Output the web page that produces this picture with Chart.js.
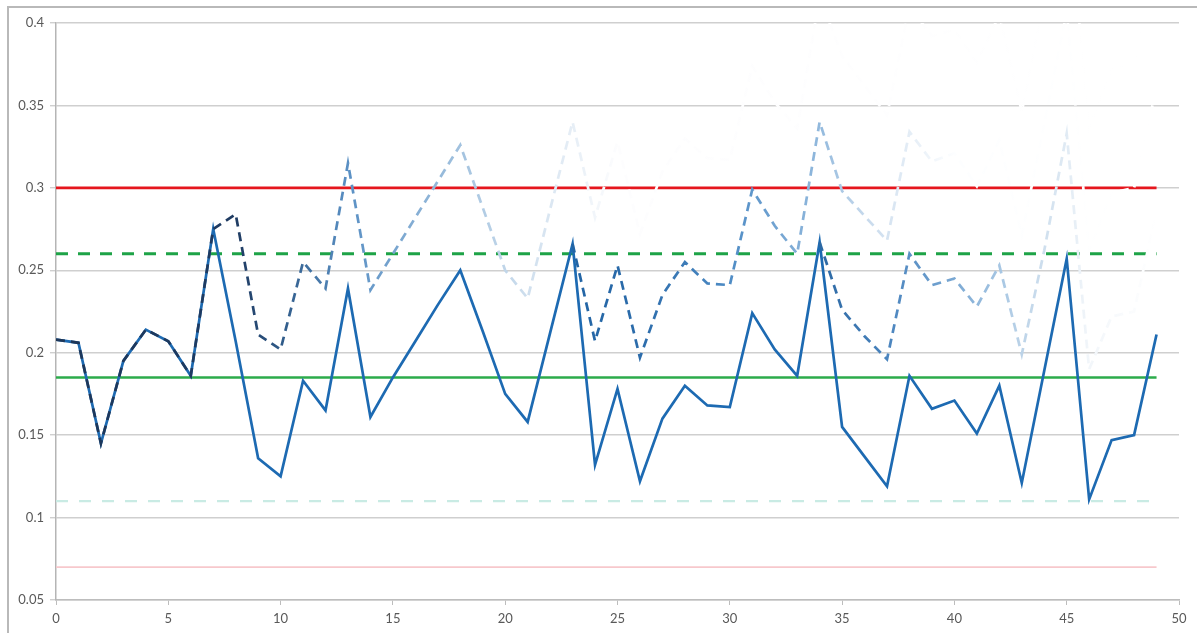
<!DOCTYPE html>
<html>
<head>
<meta charset="utf-8">
<script src="https://cdn.jsdelivr.net/npm/chart.js@4.4.1/dist/chart.umd.min.js"></script>
<style>
html,body{margin:0;padding:0;background:#fff;overflow:hidden}
#wrap{position:absolute;left:0;top:0;width:1197px;height:633px}
#frame{position:absolute;left:7px;top:6px;width:1220px;height:660px;border-left:2px solid #b9b9b9;border-top:2px solid #b9b9b9;box-sizing:border-box}
#c{position:absolute;left:0;top:0}
</style>
</head>
<body>
<div id="wrap">
<div id="frame"></div>
<canvas id="c" width="1197" height="633"></canvas>
</div>
<script>
// ---- data ----
const xCats = [0,1,2,3,4,5,6,7,8,9,10,11,12,13,14,15,16,17,18,19,20,21,22,23,24,25,26,27,28,29,30,31,32,33,34,35,36,37,38,39,40,41,42,43,44,45,46,47,48,49];
const actual = [0.208,0.206,0.145,0.195,0.214,0.207,0.186,0.275,0.207,0.136,
                0.125,0.183,0.165,0.239,0.161,0.185,0.207,0.229,0.250,0.213,
                0.175,0.158,0.212,0.266,0.132,0.178,0.122,0.160,0.180,0.168,
                0.167,0.224,0.202,0.186,0.267,0.155,0.137,0.119,0.186,0.166,
                0.171,0.151,0.180,0.121,0.189,0.257,0.111,0.147,0.150,0.211];
const scenario1 = [0.208,0.206,0.145,0.195,0.214,0.207,0.186,0.275,0.284,0.211,
                   0.202,0.255,0.239,0.315,0.238,0.260,0.282,0.304,0.326,0.288,
                   0.250,0.233,0.287,0.340,0.282,0.328,0.272,0.310,0.330,0.318,
                   0.317,0.374,0.352,0.336,0.416,0.380,0.362,0.344,0.410,0.392,
                   0.396,0.376,0.405,0.346,0.415,0.483,0.336,0.372,0.375,0.436];
const scenario2 = [null,null,null,null,null,null,null,null,null,null,
                   null,null,null,null,null,null,null,null,null,null,
                   null,null,null,0.266,0.207,0.253,0.197,0.235,0.255,0.242,
                   0.241,0.299,0.277,0.260,0.340,0.298,0.283,0.268,0.334,0.316,
                   0.321,0.301,0.329,0.271,0.339,0.407,0.262,0.297,0.300,0.361];
const scenario3 = [null,null,null,null,null,null,null,null,null,null,
                   null,null,null,null,null,null,null,null,null,null,
                   null,null,null,null,null,null,null,null,null,null,
                   null,null,null,null,0.267,0.226,0.210,0.196,0.260,0.241,
                   0.245,0.228,0.253,0.199,0.262,0.333,0.190,0.222,0.225,0.286];
const upperLimit = 0.30;
const upperWarning = 0.26;
const centerLine = 0.185;
const lowerWarning = 0.11;
const lowerLimit = 0.07;
const yTicks = [0.05,0.1,0.15,0.2,0.25,0.3,0.35,0.4];
const xTickStep = 5;

// ---- styles ----
const fade1 = [[0,'#1d3658'],[8,'#1f3b62'],[10,'#2f5a88'],[13,'#5a90c4'],[18,'#a2c2df'],[21,'#cfdfee'],[23,'#e6eef6'],[25,'#fdfdfe'],[49,'#ffffff']];
const fade2 = [[23,'#2264a4'],[26,'#2c6cab'],[30,'#4f8cc5'],[34,'#92b9dd'],[36,'#c6d9ec'],[38,'#e4edf6'],[40,'#fdfeff'],[49,'#ffffff']];
const fade3 = [[34,'#2c68a3'],[37,'#4a84be'],[40,'#7aa8d3'],[42,'#a6c6e3'],[43,'#bcd3e8'],[45,'#e1ebf4'],[46,'#f2f6fa'],[49,'#ffffff']];

function fade(stops){
  return (ctx)=>{
    const ch = ctx.chart, xs = ch.scales && ch.scales.x;
    if(!xs || !ch.chartArea) return stops[0][1];
    const x0 = xs.getPixelForValue(stops[0][0]);
    const x1 = xs.getPixelForValue(stops[stops.length-1][0]);
    const g = ch.ctx.createLinearGradient(x0,0,x1,0);
    stops.forEach(([v,c])=>{
      let t = (xs.getPixelForValue(v)-x0)/(x1-x0);
      t = Math.max(0,Math.min(1,t));
      g.addColorStop(t,c);
    });
    return g;
  };
}
function hline(v){ return [{x:xCats[0],y:v},{x:xCats[xCats.length-1],y:v}]; }

const FONT = 'Lato, "Open Sans", "Liberation Sans", sans-serif';

new Chart(document.getElementById('c'), {
  type:'line',
  data:{
    labels:xCats,
    datasets:[
      {data:scenario1, borderColor:fade(fade1), borderWidth:2.7, borderDash:[9,6], pointRadius:0, fill:false, tension:0},
      {data:scenario2, borderColor:fade(fade2), borderWidth:2.7, borderDash:[9,6], pointRadius:0, fill:false, tension:0},
      {data:scenario3, borderColor:fade(fade3), borderWidth:2.7, borderDash:[9,6], pointRadius:0, fill:false, tension:0},
      {data:actual, borderColor:'#1d6ab2', borderWidth:2.7, pointRadius:0, fill:false, tension:0},
      {data:hline(upperLimit), borderColor:'#e5161d', borderWidth:2.6, pointRadius:0, fill:false},
      {data:hline(upperWarning), borderColor:'#1ea347', borderWidth:3, borderDash:[12,10], pointRadius:0, fill:false},
      {data:hline(centerLine), borderColor:'#2cab4b', borderWidth:2.4, pointRadius:0, fill:false},
      {data:hline(lowerWarning), borderColor:'#c9ebe4', borderWidth:2.4, borderDash:[12,11], pointRadius:0, fill:false},
      {data:hline(lowerLimit), borderColor:'#f7c8cc', borderWidth:1.8, pointRadius:0, fill:false}
    ]
  },
  options:{
    responsive:false,
    animation:false,
    events:[],
    layout:{padding:{left:0,right:18,top:23,bottom:0}},
    plugins:{legend:{display:false},tooltip:{enabled:false}},
    scales:{
      x:{
        type:'linear', min:0, max:50,
        afterFit(s){ s.height = 33; },
        ticks:{stepSize:xTickStep, color:'#595959', font:{family:FONT,size:13}, padding:6, maxRotation:0},
        grid:{display:true, drawOnChartArea:false, drawTicks:true, tickLength:5, color:'#bdbdbd'},
        border:{display:true, color:'#bdbdbd', width:1.5}
      },
      y:{
        type:'linear', min:yTicks[0], max:yTicks[yTicks.length-1],
        afterFit(s){ s.width = 56; },
        afterBuildTicks(s){ s.ticks = yTicks.map(v=>({value:v})); },
        ticks:{color:'#595959', font:{family:FONT,size:13}, padding:6,
               callback:(v)=>String(Number(v.toFixed(2)))},
        grid:{color:'#cfcfcf', lineWidth:1.4, drawTicks:true, tickLength:6},
        border:{display:true, color:'#b5b5b5', width:1.5}
      }
    }
  }
});
</script>
</body>
</html>
